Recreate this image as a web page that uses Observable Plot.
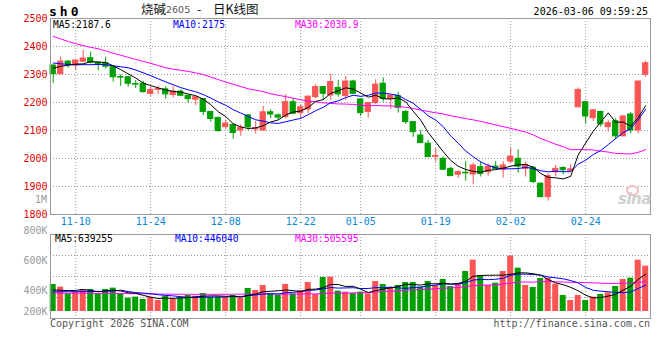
<!DOCTYPE html>
<html><head><meta charset="utf-8">
<script src="https://cdn.jsdelivr.net/npm/d3@7"></script>
<script src="https://cdn.jsdelivr.net/npm/@observablehq/plot@0.6"></script>
<style>
body{margin:0;background:#fff;}
#wrap{position:relative;width:660px;height:360px;overflow:hidden;font-family:"DejaVu Sans Mono",monospace;font-size:10px;background:#fff;}
.t{position:absolute;white-space:nowrap;line-height:1;}
.svgbox{position:absolute;left:0;}
</style></head><body><div id="wrap"></div>
<script>
// ---- data ----
const opens  = [2332,2301,2346,2332,2346,2358,2342,2340,2326,2291,2290,2266,2267,2231,2245,2247,2227,2239,2224,2210,2212,2166,2145,2112,2120,2100,2154,2104,2100,2165,2154,2148,2201,2162,2175,2219,2255,2225,2252,2223,2275,2211,2166,2198,2267,2213,2223,2166,2130,2082,2053,2006,1999,1963,1942,1949,1943,1969,1951,1971,1960,1989,1999,1963,1967,1910,1862,1951,1966,1955,2183,2201,2144,2166,2112,2133,2079,2157,2100,2299];
const highs  = [2335,2362,2350,2352,2386,2380,2345,2362,2332,2299,2292,2278,2276,2255,2258,2256,2257,2245,2226,2220,2213,2167,2147,2138,2123,2120,2156,2133,2186,2174,2160,2228,2215,2193,2223,2264,2257,2300,2279,2293,2279,2213,2201,2281,2288,2226,2236,2172,2132,2100,2064,2035,2005,1968,1957,1989,1983,1987,1981,1989,1989,2038,2031,1987,1970,1913,1945,1975,1971,1978,2252,2203,2175,2169,2136,2142,2154,2164,2277,2348];
const lows   = [2269,2300,2322,2315,2343,2338,2313,2320,2273,2258,2255,2250,2234,2222,2229,2212,2216,2222,2198,2189,2153,2130,2094,2104,2069,2080,2100,2088,2097,2142,2136,2142,2156,2142,2160,2213,2207,2207,2219,2207,2229,2150,2144,2193,2201,2175,2162,2122,2076,2054,2004,1987,1957,1936,1928,1919,1906,1934,1937,1960,1930,1983,1948,1934,1910,1860,1848,1934,1942,1951,2181,2124,2133,2112,2094,2067,2078,2088,2088,2290];
const closes = [2301,2346,2335,2350,2357,2342,2338,2328,2290,2289,2267,2264,2237,2245,2248,2229,2239,2224,2212,2219,2166,2141,2098,2125,2091,2110,2112,2108,2165,2157,2146,2201,2160,2183,2221,2255,2231,2273,2229,2275,2231,2162,2198,2264,2213,2225,2181,2130,2094,2055,2005,2009,1960,1937,1951,1947,1975,1945,1971,1963,1975,2007,1971,1977,1916,1862,1937,1963,1958,1961,2245,2150,2172,2122,2126,2079,2150,2100,2275,2340];
// volume, thousands
const volumes = [459,414,300,329,374,374,300,374,397,300,227,244,204,244,187,261,215,244,272,261,306,244,244,238,272,227,391,357,442,300,272,459,300,357,493,289,578,584,346,329,306,329,300,510,459,408,442,493,493,414,510,442,544,425,470,680,873,612,442,482,680,941,737,442,408,561,567,465,272,187,272,187,244,289,317,425,544,567,873,771];
const ma5Early  = [2323,2329,2333,2337];
const ma10Early = [2341,2338,2336,2335,2335,2335,2336,2335,2331];
const ma30Early = [2436,2427,2418,2410,2403,2397,2392,2384,2376,2369,2361,2354,2347,2340,2332,2324,2319,2315,2311,2306,2300,2291,2282,2273,2265,2257,2249,2244,2239];
const volMa5Early  = [368,360,355,358];
const volMa10Early = [335,335,336,337,338,340,342,345,348];
const volMa30Early = [312,311,311,310,310,309,308,307,306,305,304,303,301,299,297,295,294,293,292,292,292,292,293,293,294,295,296,297,299];
// axis labels
const tickIdx = [3,13,23,33,41,51,61,71];
const tickLbl = ["11-10","11-24","12-08","12-22","01-05","01-19","02-02","02-24"];
const priceTicks = [1800,1900,2000,2100,2200,2300,2400,2500];
const volTickLabels = ["800K","600K","400K","200K"];
const volLabelAt = [1377000,867000,345000,0];
const legendMain = ["MA5:2187.6","MA10:2175","MA30:2030.9"];
const legendVol  = ["MA5:639255","MA10:446040","MA30:505595"];

// ---- styling ----
const RED = "#f95555", GREEN = "#009f00";
const MA_COL = ["#000000","#0000ff","#ff00ff"];
const GRID = "#9a9a9a";
const xDomain = [-0.36, 79.64];
const volDomain = [-119000, 1309000];

const bars = d3.range(opens.length).map(i => ({
  i, o: opens[i], h: highs[i], l: lows[i], c: closes[i], v: volumes[i] * 1000,
  col: closes[i] >= opens[i] ? RED : GREEN
}));
function ma(arr, n, early) {
  return arr.map((_, i) => ({i, v: i < n - 1 ? early[i] : d3.mean(arr.slice(i - n + 1, i + 1))}));
}
const m5 = ma(closes, 5, ma5Early), m10 = ma(closes, 10, ma10Early), m30 = ma(closes, 30, ma30Early);
const vm5 = ma(volumes, 5, volMa5Early).map(d => ({i: d.i, v: d.v * 1000}));
const vm10 = ma(volumes, 10, volMa10Early).map(d => ({i: d.i, v: d.v * 1000}));
const vm30 = ma(volumes, 30, volMa30Early).map(d => ({i: d.i, v: d.v * 1000}));

const wrap = document.getElementById("wrap");
const baseStyle = {fontFamily: "DejaVu Sans Mono", fontSize: "10px", background: "transparent", overflow: "visible"};

const main = Plot.plot({
  width: 660, height: 228, marginLeft: 50, marginRight: 10, marginTop: 18, marginBottom: 14,
  style: baseStyle,
  x: {domain: xDomain, axis: null},
  y: {domain: [1800, 2500], axis: null},
  marks: [
    Plot.ruleY(priceTicks.slice(1, -1), {stroke: GRID, strokeDasharray: "1,2"}),
    Plot.ruleX(tickIdx, {stroke: GRID, strokeDasharray: "1,2"}),
    Plot.ruleX(bars, {x: "i", y1: "l", y2: "h", stroke: "col", strokeWidth: 1}),
    Plot.rect(bars, {x1: d => d.i - 0.35, x2: d => d.i + 0.35, y1: "o", y2: "c", fill: "col", stroke: "col", strokeWidth: 1}),
    Plot.line(m30, {x: "i", y: "v", stroke: MA_COL[2], strokeWidth: 1}),
    Plot.line(m10, {x: "i", y: "v", stroke: MA_COL[1], strokeWidth: 1}),
    Plot.line(m5, {x: "i", y: "v", stroke: MA_COL[0], strokeWidth: 1}),
    Plot.frame({stroke: "#999", strokeWidth: 1}),
    Plot.axisY({ticks: priceTicks, tickSize: 0, tickPadding: 3, fill: "#e00000", label: null, tickFormat: d => String(d), fontSize: 10}),
    Plot.axisX({ticks: tickIdx, tickSize: 0, tickPadding: 3, fill: "#0a88d8", label: null, tickFormat: d => tickLbl[tickIdx.indexOf(d)], fontSize: 10})
  ]
});
main.classList.add("svgbox"); main.style.top = "0px";
wrap.appendChild(main);

const volGrid = d3.range(1, 4).map(k => volDomain[0] + (volDomain[1] - volDomain[0]) * k / 4);
const vol = Plot.plot({
  width: 660, height: 98, marginLeft: 50, marginRight: 10, marginTop: 12, marginBottom: 2,
  style: baseStyle,
  x: {domain: xDomain, axis: null},
  y: {domain: volDomain, axis: null},
  marks: [
    Plot.ruleY(volGrid, {stroke: GRID, strokeDasharray: "1,2"}),
    Plot.ruleX(tickIdx, {stroke: GRID, strokeDasharray: "1,2"}),
    Plot.rect(bars, {x1: d => d.i - 0.4, x2: d => d.i + 0.4, y1: 0, y2: "v", fill: "col"}),
    Plot.line(vm30, {x: "i", y: "v", stroke: MA_COL[2], strokeWidth: 1}),
    Plot.line(vm10, {x: "i", y: "v", stroke: MA_COL[1], strokeWidth: 1}),
    Plot.line(vm5, {x: "i", y: "v", stroke: MA_COL[0], strokeWidth: 1}),
    Plot.frame({stroke: "#999", strokeWidth: 1}),
    Plot.text(volTickLabels, {x: xDomain[0], y: (d, k) => volLabelAt[k], text: d => d, dx: -3, textAnchor: "end", fill: "#999", fontSize: 10})
  ]
});
vol.classList.add("svgbox"); vol.style.top = "222px";
wrap.appendChild(vol);

// ---- texts ----
function addText(txt, css) {
  const el = document.createElement("div");
  el.className = "t"; el.textContent = txt;
  Object.assign(el.style, css);
  wrap.appendChild(el);
  return el;
}
addText("sh0", {left: "49px", top: "5px", fontWeight: "bold", fontSize: "13px", letterSpacing: "3px", color: "#000"});
addText("烧碱", {left: "141px", top: "3px", fontFamily: "'Noto Sans CJK SC'", fontSize: "12.5px", color: "#111"});
addText("2605", {left: "166px", top: "5px", fontFamily: "'DejaVu Sans'", fontSize: "9.5px", color: "#555"});
addText("-", {left: "197px", top: "3px", fontFamily: "'Noto Sans CJK SC'", fontSize: "12.5px", color: "#111"});
addText("日K线图", {left: "213px", top: "3px", fontFamily: "'Noto Sans CJK SC'", fontSize: "12.5px", color: "#111"});
addText("2026-03-06 09:59:25", {right: "12px", top: "7px", color: "#000"});
const mainLegX = [53, 173, 295], volLegX = [55, 175, 295];
legendMain.forEach((s, k) => addText(s, {left: mainLegX[k] + "px", top: "19.5px", color: MA_COL[k], fontSize: "9.6px"}));
legendVol.forEach((s, k) => addText(s, {left: volLegX[k] + "px", top: "233.5px", color: MA_COL[k], fontSize: "9.6px"}));
addText("1M", {right: "613px", top: "195px", color: "#999"});
addText("Copyright 2026 SINA.COM", {left: "50px", top: "319px", color: "#555"});
addText("http://finance.sina.com.cn", {right: "10px", top: "319px", color: "#555"});
// sina watermark
const eye = document.createElement("div");
Object.assign(eye.style, {position: "absolute", left: "626px", top: "185px", width: "9px", height: "7px", border: "2px solid #f2b9b9", borderRadius: "50%"});
wrap.appendChild(eye);
addText("sina", {left: "618px", top: "192px", fontFamily: "'DejaVu Sans'", fontStyle: "italic", fontWeight: "bold", fontSize: "15px", color: "#cfcfcf", letterSpacing: "-0.5px"});
</script></body></html>
